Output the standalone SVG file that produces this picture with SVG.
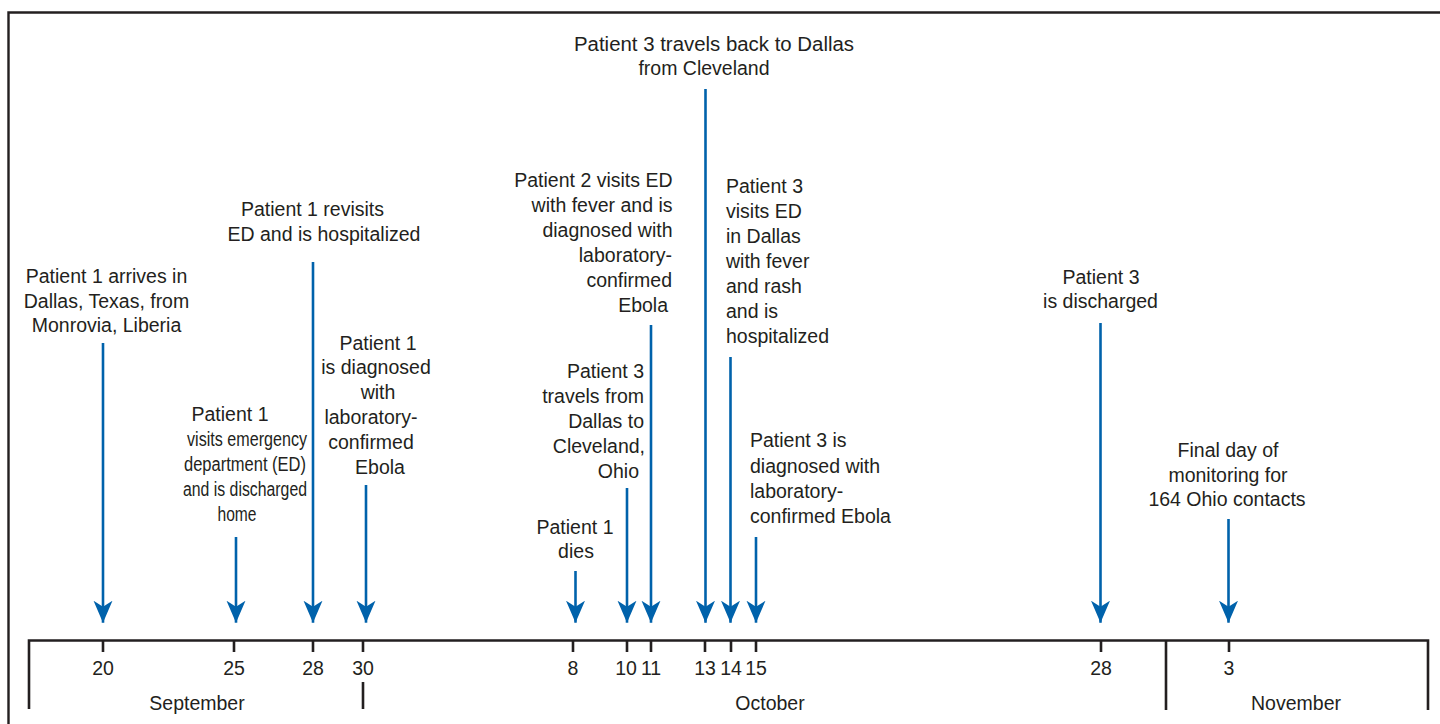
<svg xmlns="http://www.w3.org/2000/svg" width="1440" height="724" viewBox="0 0 1440 724">
<style>
text{font-family:"Liberation Sans",Arial,sans-serif;font-size:19.5px;fill:#231f20}
.m{text-anchor:middle}
.e{text-anchor:end}
.ax{stroke:#231f20;stroke-width:2.6;fill:none}
.arr{stroke:#0062ab;stroke-width:2.6;fill:none;marker-end:url(#ah)}
</style>
<defs>
<marker id="ah" markerUnits="userSpaceOnUse" viewBox="0 -10 22 20" markerWidth="22" markerHeight="20" refX="22" refY="0" orient="auto">
<path d="M0,-9.5 L6,0 L0,9.5 L22,0 Z" fill="#0062ab"/>
</marker>
</defs>
<rect width="1440" height="724" fill="#fff"/>
<g id="frame">
<path d="M8.5,724 V12.5 H1440" stroke="#231f20" stroke-width="2.4" fill="none"/>
</g>
<g id="axis">
<path class="ax" d="M29,709 V640.5 H1428 V710"/>
<path class="ax" d="M1166,640.5 V710 M363,682 V709"/>
<path class="ax" d="M103,640.5 V652 M234,640.5 V652 M313,640.5 V652 M363,640.5 V652 M573,640.5 V652 M627,640.5 V652 M651,640.5 V652 M705,640.5 V652 M731,640.5 V652 M756,640.5 V652 M1101,640.5 V652 M1229,640.5 V652"/>
<text class="m" x="103" y="675">20</text>
<text class="m" x="234" y="675">25</text>
<text class="m" x="313" y="675">28</text>
<text class="m" x="363" y="675">30</text>
<text class="m" x="573" y="675">8</text>
<text class="m" x="626" y="675">10</text>
<text class="m" x="651" y="675">11</text>
<text class="m" x="705" y="675">13</text>
<text class="m" x="731" y="675">14</text>
<text class="m" x="756" y="675">15</text>
<text class="m" x="1101" y="675">28</text>
<text class="m" x="1229" y="675">3</text>
<text class="m" x="197" y="710">September</text>
<text class="m" x="770" y="710">October</text>
<text class="m" x="1296" y="710">November</text>
</g>
<g id="connectors">
<path class="arr" d="M103,343 V622.7"/>
<path class="arr" d="M236,537 V622.7"/>
<path class="arr" d="M313,262 V622.7"/>
<path class="arr" d="M366,485 V622.7"/>
<path class="arr" d="M575.5,571 V622.7"/>
<path class="arr" d="M627,488 V622.7"/>
<path class="arr" d="M651,325 V622.7"/>
<path class="arr" d="M705.5,89 V622.7"/>
<path class="arr" d="M730.5,357 V622.7"/>
<path class="arr" d="M756,537 V622.7"/>
<path class="arr" d="M1100.5,323 V622.7"/>
<path class="arr" d="M1228.5,519 V622.7"/>
</g>
<g id="ev-sep20">
<text class="m" x="106.5" y="283">Patient 1 arrives in</text>
<text class="m" x="106.5" y="307.5">Dallas, Texas, from</text>
<text class="m" x="106.5" y="332">Monrovia, Liberia</text>
</g>
<g id="ev-sep25">
<text class="m" x="230" y="421">Patient 1</text>
<text class="m" x="247" y="446" textLength="120" lengthAdjust="spacingAndGlyphs">visits emergency</text>
<text class="m" x="245" y="471" textLength="122" lengthAdjust="spacingAndGlyphs">department (ED)</text>
<text class="m" x="245" y="496" textLength="124" lengthAdjust="spacingAndGlyphs">and is discharged</text>
<text class="m" x="237" y="521" textLength="39" lengthAdjust="spacingAndGlyphs">home</text>
</g>
<g id="ev-sep28">
<text class="m" x="312.5" y="216">Patient 1 revisits</text>
<text class="m" x="324" y="241">ED and is hospitalized</text>
</g>
<g id="ev-sep30">
<text class="m" x="378" y="350">Patient 1</text>
<text class="m" x="376" y="374">is diagnosed</text>
<text class="m" x="378" y="399">with</text>
<text class="m" x="371" y="424">laboratory-</text>
<text class="m" x="371" y="449">confirmed</text>
<text class="m" x="380" y="474">Ebola</text>
</g>
<g id="ev-oct8">
<text class="m" x="575" y="534">Patient 1</text>
<text class="m" x="576" y="558">dies</text>
</g>
<g id="ev-oct10">
<text class="e" x="644" y="378">Patient 3</text>
<text class="e" x="644" y="403">travels from</text>
<text class="e" x="644" y="428">Dallas to</text>
<text class="e" x="645" y="453">Cleveland,</text>
<text class="e" x="639" y="478">Ohio</text>
</g>
<g id="ev-oct11">
<text class="e" x="672.5" y="187">Patient 2 visits ED</text>
<text class="e" x="672.5" y="212">with fever and is</text>
<text class="e" x="672.5" y="237">diagnosed with</text>
<text class="e" x="672" y="262">laboratory-</text>
<text class="e" x="672" y="287">confirmed</text>
<text class="e" x="668" y="312">Ebola</text>
</g>
<g id="ev-oct13">
<text class="m" x="714" y="51" textLength="280" lengthAdjust="spacingAndGlyphs">Patient 3 travels back to Dallas</text>
<text class="m" x="704" y="75">from Cleveland</text>
</g>
<g id="ev-oct14">
<text x="726" y="193">Patient 3</text>
<text x="726" y="218">visits ED</text>
<text x="726" y="243">in Dallas</text>
<text x="726" y="268">with fever</text>
<text x="726" y="293">and rash</text>
<text x="726" y="318">and is</text>
<text x="726" y="343">hospitalized</text>
</g>
<g id="ev-oct15">
<text x="750" y="447">Patient 3 is</text>
<text x="750" y="473">diagnosed with</text>
<text x="750" y="498">laboratory-</text>
<text x="750" y="523">confirmed Ebola</text>
</g>
<g id="ev-oct28">
<text class="m" x="1101" y="284">Patient 3</text>
<text class="m" x="1100.5" y="308">is discharged</text>
</g>
<g id="ev-nov3">
<text class="m" x="1228" y="457">Final day of</text>
<text class="m" x="1228" y="482">monitoring for</text>
<text class="m" x="1227" y="506">164 Ohio contacts</text>
</g>
</svg>
